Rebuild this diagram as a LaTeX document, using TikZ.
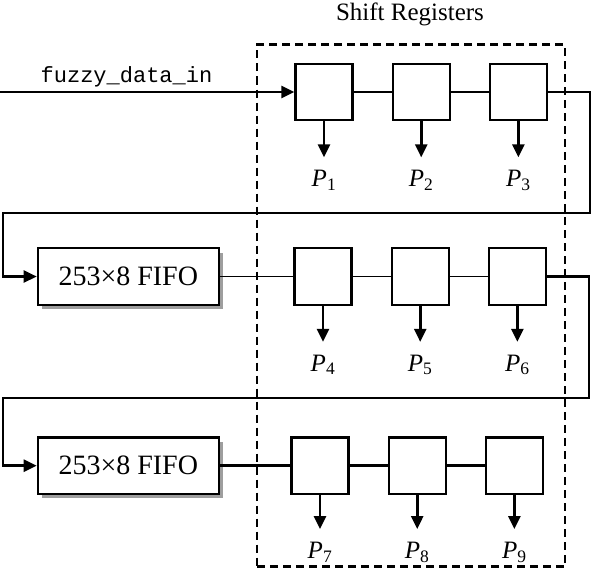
\documentclass[tikz,border=0pt]{standalone}
\usepackage{fontspec}
\setmainfont{Liberation Serif}
\setmonofont{Liberation Mono}
\usetikzlibrary{arrows.meta, positioning, shadows}

\begin{document}
\begin{tikzpicture}[x=1pt, y=-1pt,
  node distance=38pt,
  reg/.style={rectangle, draw, line width=2.2pt, minimum width=57pt, minimum height=56.5pt, inner sep=0pt},
  fifo/.style={rectangle, draw, line width=2.2pt, fill=white, minimum width=181pt, minimum height=56.5pt,
    font=\fontsize{28}{32}\selectfont,
    drop shadow={shadow xshift=4.5pt, shadow yshift=-4.5pt, fill=black!38, opacity=1}},
  arr/.style={-{Triangle[length=13pt, width=12pt]}, line width=2.6pt},
  link/.style={line width=1.3pt},
  wire/.style={line width=2.6pt},
  plabel/.style={inner sep=0pt, outer sep=13pt, font=\fontsize{25}{28}\selectfont},
  frame/.style={draw, line width=2.4pt, dash pattern=on 8pt off 5pt, minimum width=308pt, minimum height=522pt},
]
  \useasboundingbox (0,0) rectangle (592,570);

  % Shift register frame
  \node[frame] (shift) at (411,305.5) {};
  \node[anchor=base, inner sep=0pt, font=\fontsize{25}{30}\selectfont] (title) at (410,20.5) {Shift Registers};

  % Row 1
  \node[reg] (r1) at (324,92) {};
  \node[reg, right=of r1] (r2) {};
  \node[reg, right=of r2] (r3) {};

  % Row 2
  \node[fifo] (fifo1) at (128.3,276.5) {253\texttimes 8 FIFO};
  \node[reg] (r4) at (323,276.5) {};
  \node[reg, right=of r4] (r5) {};
  \node[reg, right=of r5] (r6) {};

  % Row 3
  \node[fifo] (fifo2) at (128.3,465.7) {253\texttimes 8 FIFO};
  \node[reg] (r7) at (320,465.7) {};
  \node[reg, right=of r7] (r8) {};
  \node[reg, right=of r8] (r9) {};

  % Outputs
  \node[plabel, below=36pt of r1] (p1) {\textit{P}\textsubscript{1}};
  \node[plabel, below=36pt of r2] (p2) {\textit{P}\textsubscript{2}};
  \node[plabel, below=36pt of r3] (p3) {\textit{P}\textsubscript{3}};
  \node[plabel, below=36pt of r4] (p4) {\textit{P}\textsubscript{4}};
  \node[plabel, below=36pt of r5] (p5) {\textit{P}\textsubscript{5}};
  \node[plabel, below=36pt of r6] (p6) {\textit{P}\textsubscript{6}};
  \node[plabel, below=34pt of r7] (p7) {\textit{P}\textsubscript{7}};
  \node[plabel, below=34pt of r8] (p8) {\textit{P}\textsubscript{8}};
  \node[plabel, below=34pt of r9] (p9) {\textit{P}\textsubscript{9}};

  % Input
  \coordinate (in) at (0,92);
  \node[anchor=base, inner sep=0pt, font=\ttfamily\fontsize{22}{24}\selectfont] (inlabel) at (126.5,82) {fuzzy\_data\_in};
  \draw[arr] (in) -- (r1);

  % Chains
  \draw[link] (r1) -- (r2);
  \draw[link] (r2) -- (r3);
  \draw[link] (fifo1) -- (r4);
  \draw[link] (r4) -- (r5);
  \draw[link] (r5) -- (r6);
  \draw[wire] (fifo2) -- (r7);
  \draw[wire] (r7) -- (r8);
  \draw[wire] (r8) -- (r9);

  % Taps
  \draw[arr] (r1) -- (p1);
  \draw[arr] (r2) -- (p2);
  \draw[arr] (r3) -- (p3);
  \draw[arr] (r4) -- (p4);
  \draw[arr] (r5) -- (p5);
  \draw[arr] (r6) -- (p6);
  \draw[arr] (r7) -- (p7);
  \draw[arr] (r8) -- (p8);
  \draw[arr] (r9) -- (p9);

  % Feedback into the FIFOs
  \coordinate (bend1) at (590,213);
  \coordinate (back1) at (3,213);
  \draw[arr] (r3.east) -| (bend1) -- (back1) |- (fifo1.west);
  \coordinate (bend2) at (589,398);
  \coordinate (back2) at (3,398);
  \draw[arr] (r6.east) -| (bend2) -- (back2) |- (fifo2.west);

\end{tikzpicture}
\end{document}
